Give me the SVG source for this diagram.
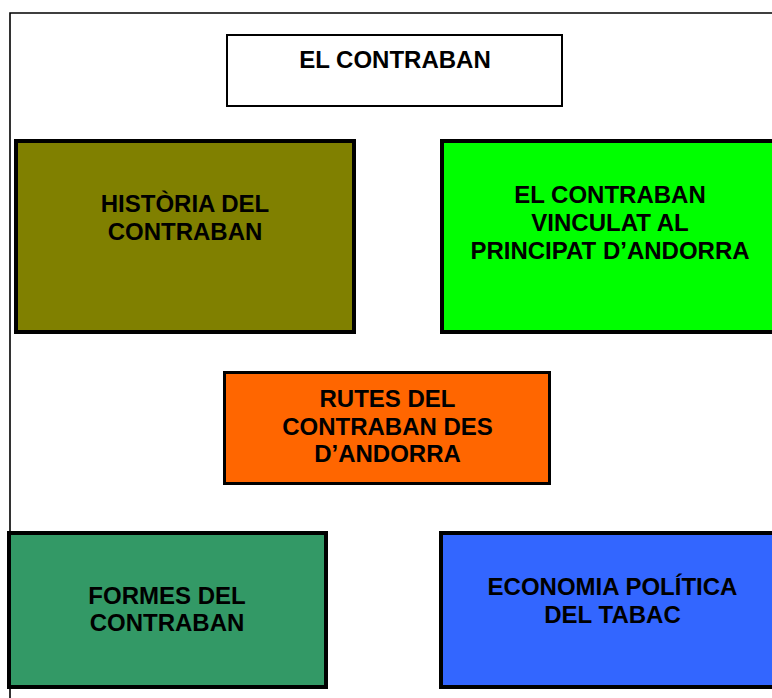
<svg xmlns="http://www.w3.org/2000/svg" width="772" height="698" viewBox="0 0 772 698">
<style>
.box{stroke:#000;stroke-width:4}
.t{font-family:"Liberation Sans",Arial,sans-serif;font-weight:bold;font-size:24px;fill:#000;text-anchor:middle}
</style>
<rect width="772" height="698" fill="#fff"/>
<path d="M10 698 V13 H772" fill="none" stroke="#000" stroke-width="1.6"/>
<g id="title">
<rect x="227" y="35" width="335" height="71" fill="#fff" stroke="#000" stroke-width="2"/>
<text class="t" x="395" y="68">EL CONTRABAN</text>
</g>
<g id="historia">
<rect class="box" x="16" y="141" width="338" height="191" fill="#808000"/>
<text class="t" x="185" y="212">HISTÒRIA DEL</text>
<text class="t" x="185" y="240">CONTRABAN</text>
</g>
<g id="vinculat">
<rect class="box" x="442" y="141" width="340" height="191" fill="#00FF00"/>
<text class="t" x="610" y="203">EL CONTRABAN</text>
<text class="t" x="610" y="231">VINCULAT AL</text>
<text class="t" x="610" y="259">PRINCIPAT D’ANDORRA</text>
</g>
<g id="rutes">
<rect x="224.5" y="372.5" width="325" height="111" fill="#FF6600" stroke="#000" stroke-width="3"/>
<text class="t" x="387.5" y="407">RUTES DEL</text>
<text class="t" x="387.5" y="434.5">CONTRABAN DES</text>
<text class="t" x="387.5" y="462">D’ANDORRA</text>
</g>
<g id="formes">
<rect class="box" x="9" y="533" width="317" height="154" fill="#339966"/>
<text class="t" x="167" y="604">FORMES DEL</text>
<text class="t" x="167" y="631">CONTRABAN</text>
</g>
<g id="economia">
<rect class="box" x="441" y="533" width="340" height="154" fill="#3366FF"/>
<text class="t" x="612.5" y="595">ECONOMIA POLÍTICA</text>
<text class="t" x="612.5" y="623">DEL TABAC</text>
</g>
<g id="connectors"></g>
</svg>
